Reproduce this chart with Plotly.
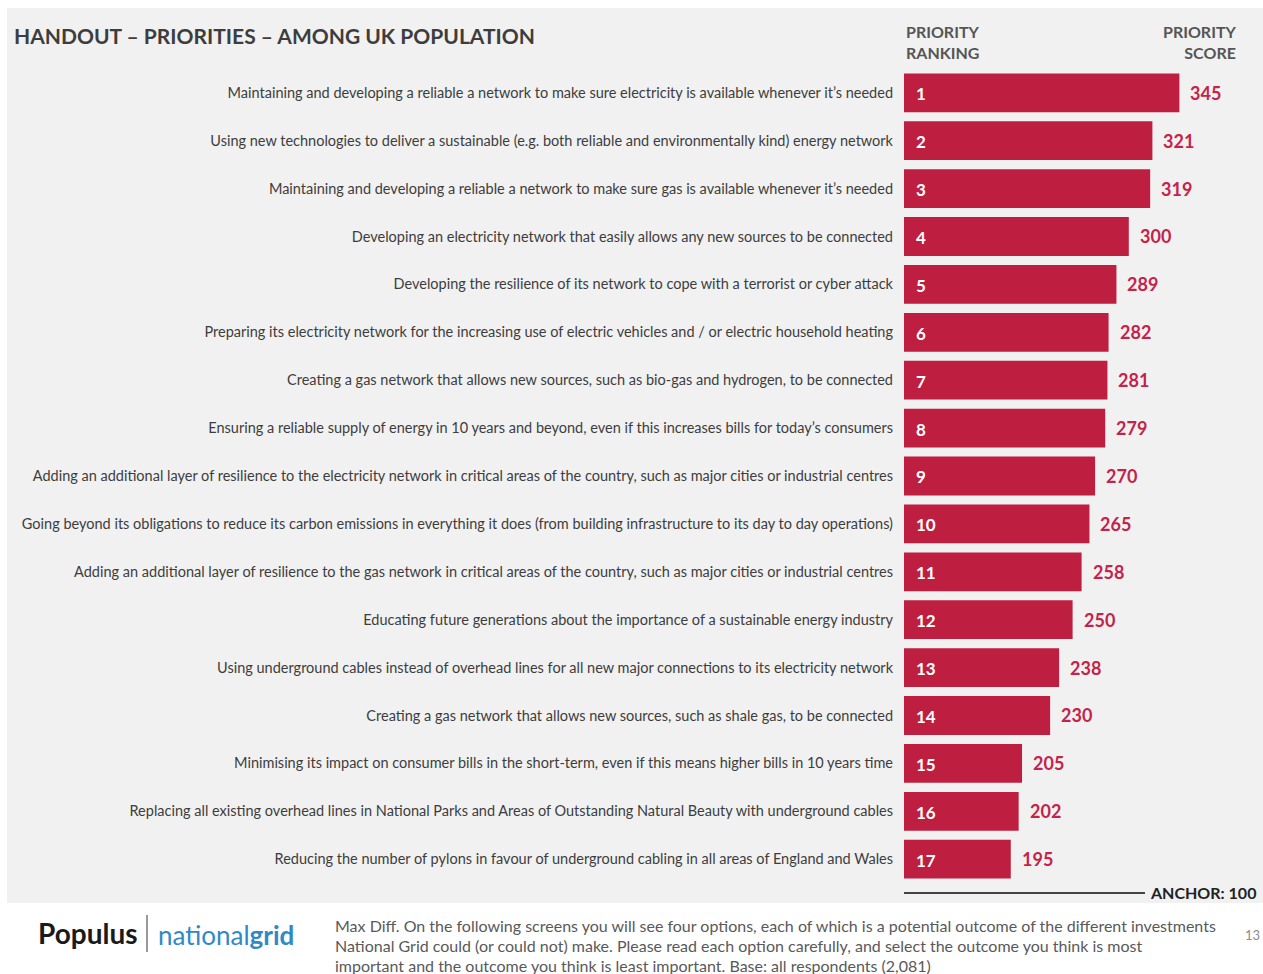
import plotly.graph_objects as go

# Priority statements (ranked order) and their priority scores
statements = [
    "Maintaining and developing a reliable a network to make sure electricity is available whenever it’s needed",
    "Using new technologies to deliver a sustainable (e.g. both reliable and environmentally kind) energy network",
    "Maintaining and developing a reliable a network to make sure gas is available whenever it’s needed",
    "Developing an electricity network that easily allows any new sources to be connected",
    "Developing the resilience of its network to cope with a terrorist or cyber attack",
    "Preparing its electricity network for the increasing use of electric vehicles and / or electric household heating",
    "Creating a gas network that allows new sources, such as bio-gas and hydrogen, to be connected",
    "Ensuring a reliable supply of energy in 10 years and beyond, even if this increases bills for today’s consumers",
    "Adding an additional layer of resilience to the electricity network in critical areas of the country, such as major cities or industrial centres",
    "Going beyond its obligations to reduce its carbon emissions in everything it does (from building infrastructure to its day to day operations)",
    "Adding an additional layer of resilience to the gas network in critical areas of the country, such as major cities or industrial centres",
    "Educating future generations about the importance of a sustainable energy industry",
    "Using underground cables instead of overhead lines for all new major connections to its electricity network",
    "Creating a gas network that allows new sources, such as shale gas, to be connected",
    "Minimising its impact on consumer bills in the short-term, even if this means higher bills in 10 years time",
    "Replacing all existing overhead lines in National Parks and Areas of Outstanding Natural Beauty with underground cables",
    "Reducing the number of pylons in favour of underground cabling in all areas of England and Wales",
]
ranks = list(range(1, 18))
scores = [345, 321, 319, 300, 289, 282, 281, 279, 270, 265, 258, 250, 238, 230, 205, 202, 195]
anchor = 100

footnote_lines = [
    "Max Diff. On the following screens you will see four options, each of which is a potential outcome of the different investments",
    "National Grid could (or could not) make. Please read each option carefully, and select the outcome you think is most",
    "important and the outcome you think is least important. Base: all respondents (2,081)",
]

BAR = "#BE1F40"
VAL = "#C4234A"
TXT = "#3d3d3d"
FONT = "Lato"

W, H = 1263, 974


def py(pix):
    """Convert a pixel row (from the top) to paper y."""
    return 1 - pix / H


fig = go.Figure()
fig.add_trace(go.Bar(
    y=statements, x=scores, orientation="h",
    marker=dict(color=BAR, line=dict(width=0)),
    width=0.81, hoverinfo="skip", showlegend=False,
))

annotations = []
for s, r, v in zip(statements, ranks, scores):
    annotations.append(dict(x=anchor, y=s, xref="x", yref="y", text=f"<b>{r}</b>",
                            xanchor="left", xshift=10, yshift=-1, showarrow=False,
                            font=dict(family=FONT, size=17, color="white")))
    annotations.append(dict(x=v, y=s, xref="x", yref="y", text=f"<b>{v}</b>",
                            xanchor="left", xshift=9, showarrow=False,
                            font=dict(family=FONT, size=18, color=VAL)))

# title and column headers
annotations += [
    dict(x=12 / W, y=py(35), xref="paper", yref="paper", text="<b>HANDOUT – PRIORITIES – AMONG UK POPULATION</b>",
         xanchor="left", yanchor="middle", showarrow=False, font=dict(family=FONT, size=21, color=TXT)),
    dict(x=904 / W, y=py(42), xref="paper", yref="paper", text="<b>PRIORITY<br>RANKING</b>",
         xanchor="left", yanchor="middle", align="left", showarrow=False, font=dict(family=FONT, size=16, color="#555555")),
    dict(x=1238 / W, y=py(42), xref="paper", yref="paper", text="<b>PRIORITY<br>SCORE</b>",
         xanchor="right", yanchor="middle", align="right", showarrow=False, font=dict(family=FONT, size=16, color="#555555")),
    dict(x=1258 / W, y=py(892), xref="paper", yref="paper", text=f"<b>ANCHOR: {anchor}</b>",
         xanchor="right", yanchor="middle", showarrow=False, font=dict(family=FONT, size=16, color="#222222")),
    # footer logos
    dict(x=36 / W, y=py(933), xref="paper", yref="paper", text="<b>Populus</b>",
         xanchor="left", yanchor="middle", showarrow=False, font=dict(family=FONT, size=28, color="#1a1a1a")),
    dict(x=156 / W, y=py(935), xref="paper", yref="paper", text="national<b>grid</b>",
         xanchor="left", yanchor="middle", showarrow=False, font=dict(family=FONT, size=26, color="#3089C6")),
    dict(x=1262 / W, y=py(935), xref="paper", yref="paper", text="13",
         xanchor="right", yanchor="middle", showarrow=False, font=dict(family=FONT, size=13, color="#8c8c8c")),
]
for i, line in enumerate(footnote_lines):
    annotations.append(dict(x=333 / W, y=py(925 + 20 * i), xref="paper", yref="paper", text=line,
                            xanchor="left", yanchor="middle", align="left", showarrow=False,
                            font=dict(family=FONT, size=16, color="#595959")))

shapes = [
    # grey slide panel
    dict(type="rect", xref="paper", yref="paper", x0=7 / W, x1=1, y0=py(903), y1=py(8),
         fillcolor="#F1F1F1", line=dict(width=0), layer="below"),
    # anchor baseline
    dict(type="line", xref="paper", yref="paper", x0=904 / W, x1=1145 / W, y0=py(893), y1=py(893),
         line=dict(color="#444444", width=2)),
    # logo divider
    dict(type="line", xref="paper", yref="paper", x0=147 / W, x1=147 / W, y0=py(915), y1=py(952),
         line=dict(color="#333333", width=1)),
]

fig.update_layout(
    width=W, height=H,
    margin=dict(l=0, r=0, t=0, b=0),
    paper_bgcolor="white", plot_bgcolor="rgba(0,0,0,0)",
    xaxis=dict(domain=[904 / W, (904 + 300 * 1.124) / W], range=[100, 400],
               showgrid=False, zeroline=False, showline=False, showticklabels=False, fixedrange=True),
    yaxis=dict(domain=[0, 1], range=[18.397, -1.937], type="category",
               showgrid=False, zeroline=False, showline=False, ticks="",
               ticklabelstandoff=10, tickfont=dict(family=FONT, size=14.5, color=TXT), fixedrange=True),
    annotations=annotations, shapes=shapes, bargap=0.19,
)

fig.write_html("out.html")
